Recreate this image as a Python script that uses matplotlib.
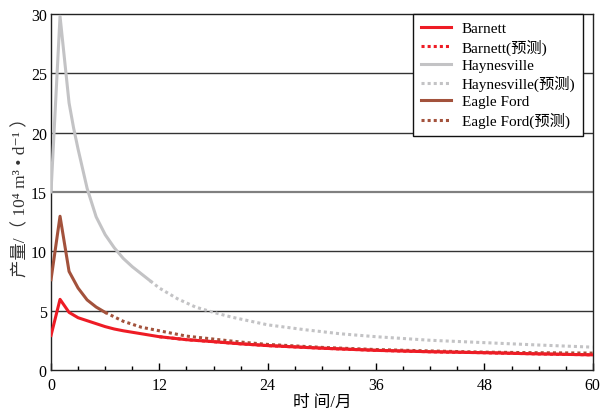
import matplotlib
matplotlib.use("Agg")
import matplotlib.pyplot as plt
from matplotlib.ticker import MultipleLocator

# ---- data ----
barnett_m = [0, 1, 2, 3, 4, 5, 6, 7, 8, 10, 12, 15, 18, 21, 24, 30, 36, 42, 48, 54, 60]
barnett_v = [2.9, 5.95, 4.85, 4.4, 4.15, 3.9, 3.65, 3.45, 3.3, 3.05, 2.8, 2.55, 2.38, 2.2, 2.05, 1.83, 1.65, 1.53, 1.45, 1.35, 1.27]
barnett_f_m = [12, 15, 18, 21, 24, 30, 36, 42, 48, 54, 60]
barnett_f_v = [2.8, 2.55, 2.38, 2.2, 2.05, 1.83, 1.65, 1.53, 1.45, 1.35, 1.27]

hay_m = [0, 1, 2, 2.5, 3, 4, 5, 6, 7, 8, 9, 10, 11]
hay_v = [15.0, 29.8, 22.5, 20.4, 18.6, 15.3, 12.9, 11.4, 10.3, 9.4, 8.7, 8.1, 7.5]
hay_f_m = [11, 12, 14, 16, 18, 20, 24, 28, 32, 36, 42, 48, 54, 60]
hay_f_v = [7.5, 6.9, 6.0, 5.3, 4.85, 4.45, 3.8, 3.4, 3.05, 2.8, 2.5, 2.3, 2.1, 1.92]

ef_m = [0, 1, 2, 3, 4, 5, 6]
ef_v = [7.6, 12.95, 8.3, 6.9, 5.9, 5.3, 4.85]
ef_f_m = [6, 8, 10, 12, 15, 18, 21, 24, 30, 36, 42, 48, 54, 60]
ef_f_v = [4.85, 4.1, 3.6, 3.3, 2.85, 2.6, 2.35, 2.15, 1.9, 1.72, 1.6, 1.5, 1.45, 1.42]

labels = ["Barnett", "Barnett(预测)", "Haynesville", "Haynesville(预测)", "Eagle Ford", "Eagle Ford(预测)"]
xticks = [0, 12, 24, 36, 48, 60]
yticks = [0, 5, 10, 15, 20, 25, 30]

RED = "#ee1c25"
GRAY = "#c3c3c5"
BROWN = "#a3523c"
FONTS = ["Liberation Serif", "Noto Sans CJK SC", "DejaVu Serif"]
plt.rcParams["font.family"] = FONTS

fig = plt.figure(figsize=(6.0, 4.14), dpi=100)
ax = fig.add_axes([0.085, 0.104, 0.903, 0.86])

# grid lines
for y in yticks[1:-1]:
    ax.axhline(y, color="#808080" if y == 15 else "#333333",
               lw=1.6 if y == 15 else 1.0, zorder=1)

lw = 2.2
dot = (0, (1, 1))
h_bf, = ax.plot(barnett_f_m, barnett_f_v, color=RED, lw=lw, ls=dot, zorder=2, label=labels[1])
h_b, = ax.plot(barnett_m, barnett_v, color=RED, lw=lw, zorder=4, label=labels[0])
h_h, = ax.plot(hay_m, hay_v, color=GRAY, lw=lw, zorder=3, label=labels[2])
h_hf, = ax.plot(hay_f_m, hay_f_v, color=GRAY, lw=lw, ls=dot, zorder=3, label=labels[3])
h_e, = ax.plot(ef_m, ef_v, color=BROWN, lw=lw, zorder=3, label=labels[4])
h_ef, = ax.plot(ef_f_m, ef_f_v, color=BROWN, lw=lw, ls=dot, zorder=3, label=labels[5])

ax.set_xlim(0, 60)
ax.set_ylim(0, 30)
ax.set_xticks(xticks)
ax.xaxis.set_minor_locator(MultipleLocator(3))
ax.set_yticks(yticks)
ax.tick_params(axis="x", which="major", direction="in", length=5, width=1, labelsize=11.5, pad=5)
ax.tick_params(axis="x", which="minor", direction="in", length=3, width=1)
ax.tick_params(axis="y", which="both", length=0, labelsize=11.5, pad=3)
for s in ax.spines.values():
    s.set_linewidth(1.0)
    s.set_color("#222222")

ax.set_xlabel("时 间/月", fontsize=12, labelpad=1)
ax.set_ylabel("产量/（ 10⁴ m³ • d⁻¹ ）", fontsize=12.5, labelpad=1, color="#333333")

leg = ax.legend(handles=[h_b, h_bf, h_h, h_hf, h_e, h_ef], loc="upper right",
                bbox_to_anchor=(0.982, 1.0), borderaxespad=0, fontsize=11,
                frameon=True, fancybox=False, handlelength=2.0, labelspacing=0.22,
                handletextpad=0.7, borderpad=0.5)
leg.get_frame().set_edgecolor("#111111")
leg.get_frame().set_linewidth(1.0)
leg.get_frame().set_alpha(1)
leg.set_zorder(10)

fig.savefig("out.png", dpi=100)
